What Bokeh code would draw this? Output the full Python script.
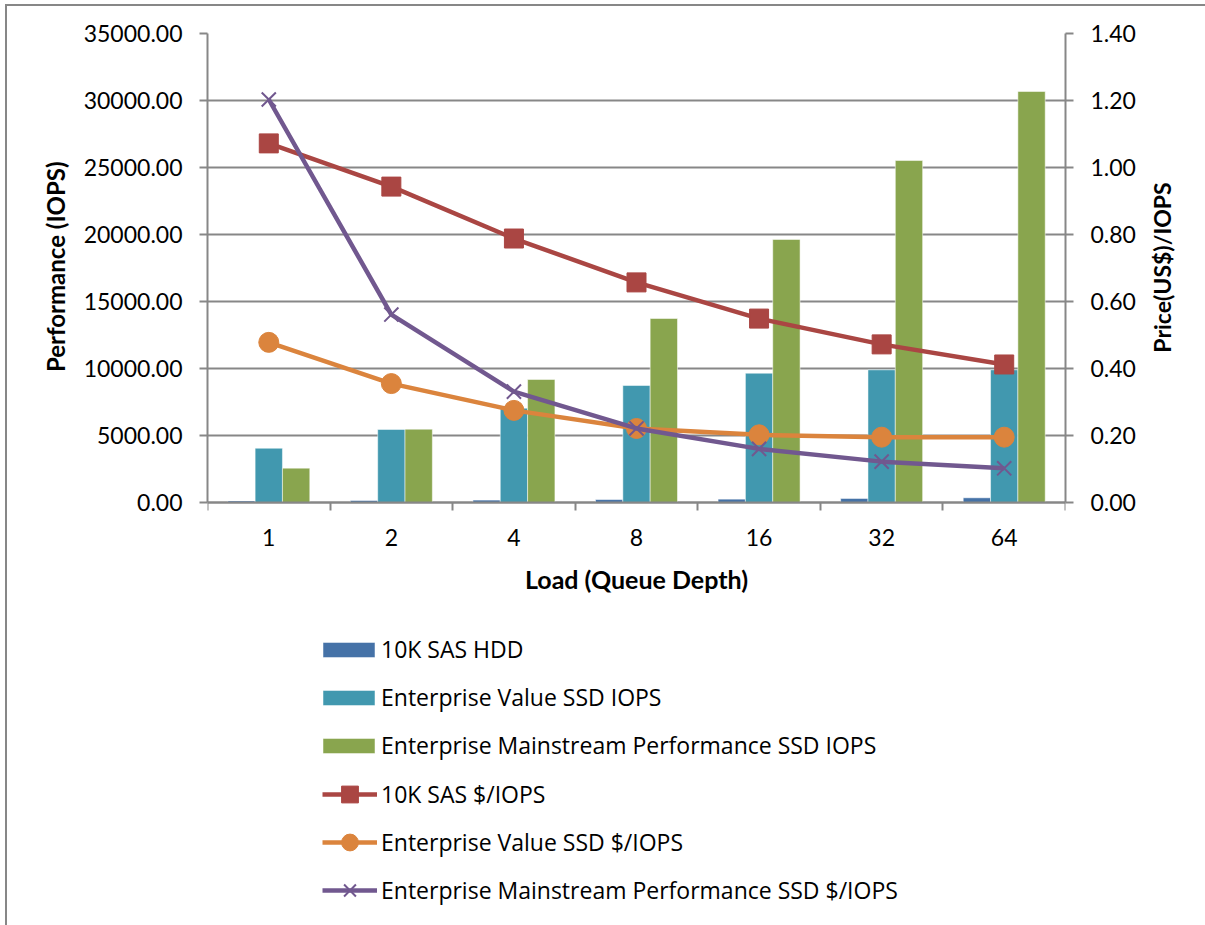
import math
from bokeh.plotting import figure
from bokeh.models import (Range1d, LinearAxis, FixedTicker, PrintfTickFormatter, Legend,
                          LegendItem, Title, Label)
from bokeh.embed import file_html
from bokeh.resources import INLINE
import numpy as np

queue_depths = ["1", "2", "4", "8", "16", "32", "64"]
hdd_iops = [120, 150, 180, 220, 250, 300, 350]
value_ssd_iops = [4050, 5450, 7040, 8730, 9650, 9900, 9900]
mainstream_ssd_iops = [2560, 5470, 9180, 13730, 19630, 25520, 30670]
hdd_price = [1.072, 0.943, 0.788, 0.657, 0.549, 0.472, 0.412]
value_ssd_price = [0.478, 0.355, 0.275, 0.221, 0.202, 0.195, 0.195]
mainstream_ssd_price = [1.203, 0.561, 0.331, 0.221, 0.160, 0.122, 0.102]
iops_ticks = [0, 5000, 10000, 15000, 20000, 25000, 30000, 35000]
price_ticks = [0.0, 0.2, 0.4, 0.6, 0.8, 1.0, 1.2, 1.4]

FONT = "Lato"
LEG_FONT = "Open Sans"
GRAY = "#878787"
C_HDD = "#4572A7"
C_VAL = "#4198AF"
C_MAIN = "#89A54E"
C_RED = "#AA4643"
C_ORA = "#DB843D"
C_PUR = "#71588F"

W, H = 1205, 925
TOP, ZERO_Y = 33, 502          # pixel rows of the value-axis top and of zero
below_frac = (H - ZERO_Y) / (ZERO_Y - TOP)   # frame extends below zero to hold the legend

n = len(queue_depths)
centers = np.arange(n) + 0.5
bw = 0.223

iops_max = iops_ticks[-1]
price_max = price_ticks[-1]

p = figure(width=W, height=H, output_backend="svg", toolbar_location=None,
           x_range=Range1d(0, n),
           y_range=Range1d(-iops_max * below_frac, iops_max),
           min_border_left=207, min_border_right=140, min_border_top=TOP,
           min_border_bottom=0)
p.styles = {
    "background-color": "white",
    "background-image": f"linear-gradient({GRAY}, {GRAY}), linear-gradient({GRAY}, {GRAY})",
    "background-size": "2px 100%, 100% 2px",
    "background-position": "5px 5px, 5px 4px",
    "background-repeat": "no-repeat",
}
p.outline_line_color = None
p.background_fill_alpha = 0
p.border_fill_alpha = 0
p.extra_y_ranges = {"price": Range1d(-price_max * below_frac, price_max)}

# bars
r_hdd = p.vbar(x=centers - bw, top=hdd_iops, width=bw, fill_color=C_HDD,
               line_color="white", line_alpha=0.5, line_width=1)
r_val = p.vbar(x=centers, top=value_ssd_iops, width=bw, fill_color=C_VAL,
               line_color="white", line_alpha=0.5, line_width=1)
r_main = p.vbar(x=centers + bw, top=mainstream_ssd_iops, width=bw, fill_color=C_MAIN,
                line_color="white", line_alpha=0.5, line_width=1)

# lines
l_red = p.line(centers, hdd_price, y_range_name="price", line_color=C_RED, line_width=4.5)
m_red = p.scatter(centers, hdd_price, y_range_name="price", marker="square", size=19,
                  fill_color=C_RED, line_color=C_RED)
l_ora = p.line(centers, value_ssd_price, y_range_name="price", line_color=C_ORA, line_width=4.5)
m_ora = p.scatter(centers, value_ssd_price, y_range_name="price", marker="circle", size=20,
                  fill_color=C_ORA, line_color=C_ORA)
l_pur = p.line(centers, mainstream_ssd_price, y_range_name="price", line_color=C_PUR, line_width=4.5)
m_pur = p.scatter(centers, mainstream_ssd_price, y_range_name="price", marker="x", size=20,
                  line_color=C_PUR, line_width=2)

# axes
def style_axis(ax):
    ax.axis_line_color = GRAY
    ax.axis_line_width = 2
    ax.major_tick_line_color = GRAY
    ax.major_tick_line_width = 2
    ax.minor_tick_line_color = GRAY
    ax.minor_tick_line_width = 2
    ax.major_label_text_font = FONT
    ax.major_label_text_font_size = "23px"
    ax.major_label_text_color = "black"
    ax.axis_label_text_font = FONT
    ax.axis_label_text_font_size = "25px"
    ax.axis_label_text_font_style = "bold"
    ax.axis_label_text_color = "black"

xa = p.xaxis[0]
xa.fixed_location = 0
xa.ticker = FixedTicker(ticks=list(centers), minor_ticks=list(range(n + 1)))
xa.major_label_overrides = {float(c): lab for c, lab in zip(centers, queue_depths)}
style_axis(xa)
xa.major_tick_out = 0
xa.major_tick_in = 0
xa.minor_tick_out = 8
xa.minor_tick_in = 0
xa.major_label_standoff = 18
xa.axis_label = "Load (Queue Depth)"
xa.axis_label_standoff = 15

ya = p.yaxis[0]
ya.bounds = (0, iops_max)
ya.ticker = FixedTicker(ticks=iops_ticks)
ya.formatter = PrintfTickFormatter(format="%.2f")
style_axis(ya)
ya.major_tick_out = 8
ya.major_tick_in = 0
ya.minor_tick_line_color = None
ya.major_label_standoff = 17

ra = LinearAxis(y_range_name="price", ticker=FixedTicker(ticks=price_ticks),
                formatter=PrintfTickFormatter(format="%.2f"), bounds=(0, price_max))
style_axis(ra)
ra.major_tick_out = 8
ra.major_tick_in = 0
ra.minor_tick_line_color = None
ra.major_label_standoff = 17
p.add_layout(ra, "right")

# axis titles (placed against the value-axis span, not the whole frame)
left_title = Title(text="Performance (IOPS)", align="right", offset=128, standoff=22,
                   text_font=FONT, text_font_size="24px", text_font_style="bold",
                   text_color="black")
p.add_layout(left_title, "left")

right_title = Label(x=1161, y=267, x_units="canvas", y_units="canvas",
                    text="Price(US$)/IOPS", angle=math.pi / 2,
                    text_align="center", text_baseline="middle",
                    text_font=FONT, text_font_size="23px", text_font_style="bold",
                    text_color="black")
p.add_layout(right_title, "right")

p.xgrid.visible = False
p.ygrid.ticker = FixedTicker(ticks=iops_ticks)
p.ygrid.grid_line_color = GRAY
p.ygrid.grid_line_width = 2

# legends
def style_legend(lg):
    lg.label_text_font = LEG_FONT
    lg.label_text_font_size = "23px"
    lg.label_text_color = "black"
    lg.border_line_color = None
    lg.background_fill_alpha = 0
    lg.padding = 0
    lg.margin = 0
    lg.label_height = 26

leg1 = Legend(items=[
    LegendItem(label="10K SAS HDD", renderers=[r_hdd]),
    LegendItem(label="Enterprise Value SSD IOPS", renderers=[r_val]),
    LegendItem(label="Enterprise Mainstream Performance SSD IOPS", renderers=[r_main]),
], location=(109, 164))
style_legend(leg1)
leg1.glyph_width = 65
leg1.glyph_height = 19
leg1.spacing = 16
leg1.label_standoff = 0
p.add_layout(leg1, "center")

leg2 = Legend(items=[
    LegendItem(label="10K SAS $/IOPS", renderers=[l_red, m_red]),
    LegendItem(label="Enterprise Value SSD $/IOPS", renderers=[l_ora, m_ora]),
    LegendItem(label="Enterprise Mainstream Performance SSD $/IOPS", renderers=[l_pur, m_pur]),
], location=(115, 14))
style_legend(leg2)
leg2.glyph_width = 55
leg2.glyph_height = 42
leg2.spacing = 6
leg2.label_standoff = 4
p.add_layout(leg2, "center")

open("out.html", "w").write(file_html(p, INLINE))
